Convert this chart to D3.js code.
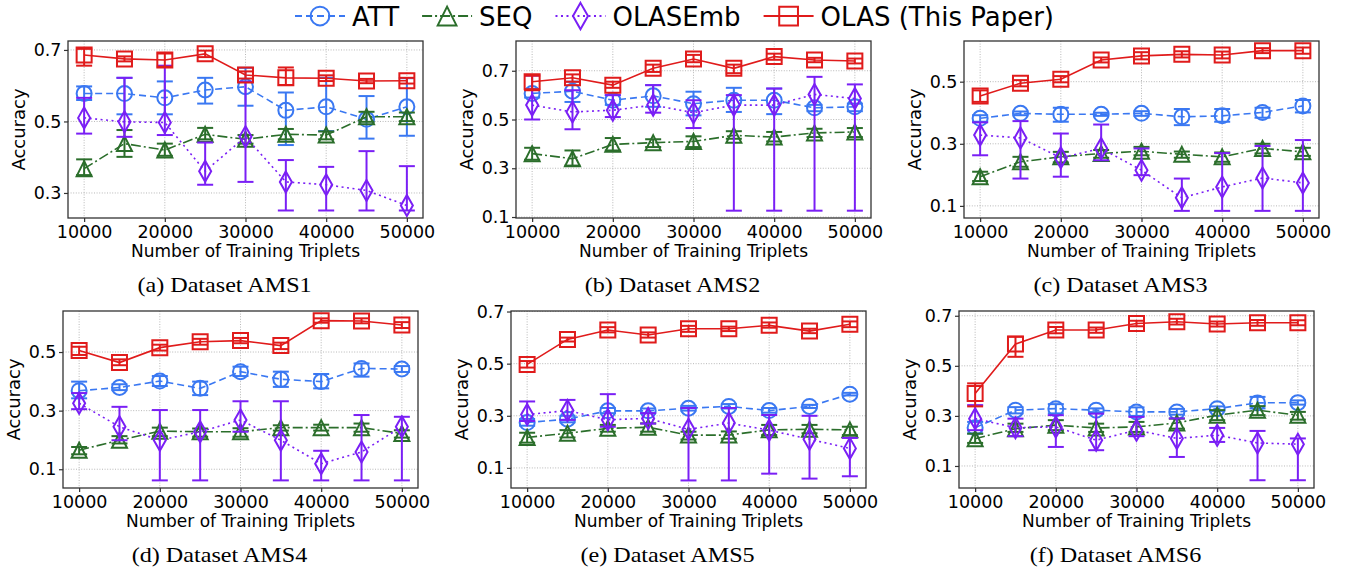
<!DOCTYPE html>
<html>
<head>
<meta charset="utf-8">
<script src="https://cdn.jsdelivr.net/npm/d3@7"></script>
<style>
body { margin: 0; background: #fff; }
svg text { font-family: "DejaVu Sans", sans-serif; fill: #000; }
</style>
</head>
<body>
<svg id="chart" width="1346" height="569"></svg>
<script>
// x values and ticks
var triplets = [10000, 15000, 20000, 25000, 30000, 35000, 40000, 45000, 50000];
var xTicks = [10000, 20000, 30000, 40000, 50000];
var yTicks = [0.1, 0.3, 0.5, 0.7];
var seriesNames = ["ATT", "SEQ", "OLASEmb", "OLAS (This Paper)"];
var captions = ["(a) Dataset AMS1", "(b) Dataset AMS2", "(c) Dataset AMS3",
                "(d) Dataset AMS4", "(e) Dataset AMS5", "(f) Dataset AMS6"];

// each point: [mean, low end of error bar, high end of error bar]
var ams1ATT = [[0.578,0.560,0.598],[0.578,0.520,0.622],[0.566,0.520,0.612],[0.588,0.550,0.622],[0.597,0.544,0.650],[0.531,0.434,0.581],[0.541,0.473,0.622],[0.506,0.452,0.571],[0.541,0.460,0.621]];
var ams1SEQ = [[0.368,0.350,0.394],[0.438,0.401,0.476],[0.420,0.404,0.438],[0.464,0.450,0.482],[0.450,0.438,0.462],[0.464,0.450,0.479],[0.462,0.450,0.472],[0.513,0.499,0.527],[0.513,0.501,0.525]];
var ams1EMB = [[0.510,0.466,0.566],[0.499,0.457,0.622],[0.497,0.462,0.656],[0.361,0.323,0.441],[0.457,0.331,0.611],[0.331,0.251,0.392],[0.323,0.251,0.373],[0.307,0.251,0.417],[0.265,0.251,0.375]];
var ams1OLAS = [[0.686,0.656,0.703],[0.675,0.668,0.682],[0.672,0.653,0.690],[0.689,0.680,0.698],[0.630,0.620,0.640],[0.622,0.602,0.651],[0.621,0.613,0.629],[0.613,0.607,0.619],[0.614,0.606,0.622]];

var ams2ATT = [[0.607,0.590,0.625],[0.616,0.572,0.655],[0.579,0.560,0.600],[0.597,0.552,0.641],[0.565,0.517,0.614],[0.579,0.531,0.630],[0.579,0.522,0.627],[0.548,0.534,0.560],[0.552,0.534,0.565]];
var ams2SEQ = [[0.360,0.335,0.384],[0.339,0.311,0.373],[0.398,0.373,0.424],[0.405,0.387,0.419],[0.410,0.387,0.431],[0.435,0.421,0.452],[0.428,0.410,0.449],[0.445,0.428,0.462],[0.449,0.428,0.465]];
var ams2EMB = [[0.559,0.500,0.680],[0.531,0.460,0.620],[0.538,0.510,0.600],[0.559,0.528,0.641],[0.528,0.465,0.579],[0.559,0.126,0.600],[0.559,0.126,0.627],[0.603,0.126,0.675],[0.586,0.126,0.644]];
var ams2OLAS = [[0.655,0.620,0.680],[0.671,0.655,0.685],[0.641,0.630,0.655],[0.710,0.695,0.725],[0.748,0.735,0.765],[0.710,0.690,0.725],[0.758,0.745,0.770],[0.744,0.735,0.753],[0.740,0.730,0.750]];

var ams3ATT = [[0.382,0.371,0.392],[0.398,0.392,0.404],[0.395,0.371,0.416],[0.395,0.390,0.400],[0.398,0.390,0.405],[0.387,0.360,0.412],[0.390,0.371,0.412],[0.401,0.384,0.416],[0.422,0.401,0.441]];
var ams3SEQ = [[0.194,0.180,0.210],[0.242,0.226,0.258],[0.258,0.240,0.274],[0.269,0.255,0.280],[0.276,0.263,0.290],[0.266,0.255,0.275],[0.258,0.242,0.272],[0.285,0.269,0.300],[0.274,0.261,0.287]];
var ams3EMB = [[0.328,0.263,0.369],[0.319,0.188,0.373],[0.255,0.194,0.333],[0.285,0.247,0.362],[0.215,0.199,0.285],[0.126,0.084,0.188],[0.161,0.084,0.270],[0.190,0.084,0.293],[0.174,0.084,0.312]];
var ams3OLAS = [[0.454,0.435,0.472],[0.495,0.485,0.505],[0.508,0.498,0.518],[0.570,0.562,0.578],[0.583,0.572,0.595],[0.588,0.578,0.598],[0.586,0.575,0.597],[0.600,0.592,0.608],[0.600,0.590,0.610]];

var ams4ATT = [[0.368,0.342,0.399],[0.379,0.370,0.390],[0.401,0.384,0.418],[0.376,0.353,0.399],[0.433,0.418,0.450],[0.407,0.381,0.433],[0.399,0.376,0.425],[0.444,0.416,0.461],[0.442,0.432,0.452]];
var ams4SEQ = [[0.165,0.151,0.176],[0.199,0.188,0.213],[0.230,0.213,0.242],[0.228,0.211,0.239],[0.228,0.211,0.240],[0.242,0.232,0.250],[0.242,0.232,0.252],[0.242,0.228,0.256],[0.222,0.208,0.233]];
var ams4EMB = [[0.325,0.305,0.360],[0.245,0.199,0.313],[0.199,0.062,0.302],[0.228,0.062,0.302],[0.268,0.228,0.332],[0.199,0.062,0.332],[0.119,0.062,0.163],[0.159,0.062,0.285],[0.245,0.062,0.279]];
var ams4OLAS = [[0.505,0.490,0.518],[0.464,0.455,0.475],[0.515,0.505,0.525],[0.535,0.525,0.545],[0.539,0.530,0.548],[0.522,0.510,0.532],[0.607,0.600,0.615],[0.606,0.598,0.615],[0.592,0.582,0.602]];

var ams5ATT = [[0.274,0.262,0.288],[0.287,0.275,0.300],[0.319,0.310,0.330],[0.319,0.310,0.328],[0.329,0.320,0.338],[0.336,0.328,0.345],[0.320,0.312,0.330],[0.336,0.330,0.342],[0.383,0.378,0.388]];
var ams5SEQ = [[0.217,0.197,0.235],[0.233,0.217,0.245],[0.252,0.239,0.265],[0.256,0.239,0.271],[0.226,0.209,0.239],[0.226,0.212,0.240],[0.246,0.226,0.265],[0.248,0.233,0.265],[0.246,0.226,0.258]];
var ams5EMB = [[0.305,0.280,0.355],[0.320,0.284,0.361],[0.285,0.258,0.383],[0.290,0.270,0.310],[0.248,0.052,0.330],[0.272,0.052,0.330],[0.245,0.078,0.303],[0.210,0.059,0.300],[0.175,0.068,0.215]];
var ams5OLAS = [[0.497,0.485,0.510],[0.593,0.585,0.600],[0.629,0.620,0.640],[0.610,0.600,0.620],[0.634,0.622,0.645],[0.634,0.625,0.642],[0.647,0.638,0.658],[0.625,0.617,0.634],[0.651,0.640,0.662]];

var ams6ATT = [[0.253,0.230,0.276],[0.323,0.310,0.335],[0.329,0.310,0.347],[0.323,0.315,0.330],[0.316,0.300,0.334],[0.316,0.305,0.328],[0.329,0.320,0.338],[0.352,0.330,0.376],[0.353,0.345,0.362]];
var ams6SEQ = [[0.209,0.192,0.229],[0.249,0.236,0.269],[0.263,0.243,0.283],[0.252,0.236,0.269],[0.256,0.236,0.276],[0.272,0.249,0.289],[0.303,0.283,0.323],[0.323,0.303,0.339],[0.303,0.285,0.316]];
var ams6EMB = [[0.289,0.243,0.343],[0.253,0.219,0.289],[0.256,0.176,0.303],[0.203,0.163,0.309],[0.243,0.219,0.296],[0.210,0.136,0.290],[0.223,0.196,0.252],[0.192,0.043,0.240],[0.187,0.043,0.210]];
var ams6OLAS = [[0.389,0.338,0.430],[0.587,0.536,0.616],[0.643,0.630,0.655],[0.643,0.632,0.653],[0.669,0.658,0.680],[0.676,0.665,0.688],[0.667,0.657,0.677],[0.672,0.660,0.683],[0.672,0.662,0.682]];

var W = 355, H = 177;

// panel placement and y range of each subplot
var panels = [
    {left: 68,  top: 41,  yDomain: [0.230, 0.725], series: [ams1ATT, ams1SEQ, ams1EMB, ams1OLAS]},
    {left: 516, top: 41,  yDomain: [0.096, 0.822], series: [ams2ATT, ams2SEQ, ams2EMB, ams2OLAS]},
    {left: 964, top: 41,  yDomain: [0.061, 0.631], series: [ams3ATT, ams3SEQ, ams3EMB, ams3OLAS]},
    {left: 63,  top: 311, yDomain: [0.036, 0.640], series: [ams4ATT, ams4SEQ, ams4EMB, ams4OLAS]},
    {left: 511, top: 311, yDomain: [0.023, 0.702], series: [ams5ATT, ams5SEQ, ams5EMB, ams5OLAS]},
    {left: 959, top: 311, yDomain: [0.012, 0.719], series: [ams6ATT, ams6SEQ, ams6EMB, ams6OLAS]}
];

var styles = [
    {color: "#3a78f2", dash: "7,4", marker: "circle"},
    {color: "#2b6e2b", dash: "10,3,2,3", marker: "triangle"},
    {color: "#7a1ff5", dash: "2,3.5", marker: "diamond"},
    {color: "#e01b1b", dash: null, marker: "square"}
];

function markerPath(type, k) {
    k = k || 1;
    if (type == "circle") {
        var r = 7.5 * k;
        return "M" + r + ",0A" + r + "," + r + " 0 1,1 " + (-r) + ",0A" + r + "," + r + " 0 1,1 " + r + ",0Z";
    }
    if (type == "triangle") {
        var h = 7.5 * k;
        return "M0," + (-h) + "L" + h + "," + h + "L" + (-h) + "," + h + "Z";
    }
    if (type == "diamond") {
        var a = 6 * k, b = 10.5 * k;
        return "M0," + (-b) + "L" + a + ",0L0," + b + "L" + (-a) + ",0Z";
    }
    var s = 7.5 * k;
    return "M" + (-s) + "," + (-s) + "H" + s + "V" + s + "H" + (-s) + "Z";
}

var svg = d3.select("#chart");

function drawPanel(p, i) {
    var g = svg.append("g").attr("transform", "translate(" + p.left + "," + p.top + ")");
    var x = d3.scaleLinear().domain([8000, 52000]).range([0, W]);
    var y = d3.scaleLinear().domain(p.yDomain).range([H, 0]);
    var yt = yTicks.filter(function(v) { return v >= p.yDomain[0] && v <= p.yDomain[1]; });

    // dotted grid
    g.append("g").selectAll("line").data(xTicks).join("line")
        .attr("x1", function(d) { return x(d); }).attr("x2", function(d) { return x(d); })
        .attr("y1", 0).attr("y2", H);
    g.append("g").selectAll("line").data(yt).join("line")
        .attr("x1", 0).attr("x2", W)
        .attr("y1", function(d) { return y(d); }).attr("y2", function(d) { return y(d); });
    g.selectAll("g line")
        .attr("stroke", "#b0b0b0").attr("stroke-width", 0.9).attr("stroke-dasharray", "1,1.6");

    var xAxis = g.append("g").attr("transform", "translate(0," + H + ")")
        .call(d3.axisBottom(x).tickValues(xTicks).tickFormat(d3.format("d")).tickSize(4).tickPadding(4));
    var yAxis = g.append("g")
        .call(d3.axisLeft(y).tickValues(yt).tickFormat(d3.format(".1f")).tickSize(4).tickPadding(2.5));
    [xAxis, yAxis].forEach(function(ax) {
        ax.select(".domain").remove();
        ax.selectAll(".tick line").attr("stroke", "#333").attr("stroke-width", 1.2);
        ax.selectAll(".tick text").attr("font-size", 17.5).attr("font-family", "DejaVu Sans").attr("fill", "#000");
    });

    // series: line, error bars, hollow markers
    p.series.forEach(function(data, s) {
        var st = styles[s];
        var sg = g.append("g");
        var pts = data.map(function(d, j) { return {x: triplets[j], v: d[0], lo: d[1], hi: d[2]}; });
        sg.append("path").datum(pts)
            .attr("fill", "none").attr("stroke", st.color).attr("stroke-width", 1.6)
            .attr("stroke-dasharray", st.dash)
            .attr("d", d3.line().x(function(d) { return x(d.x); }).y(function(d) { return y(d.v); }));
        var eb = sg.append("g").attr("stroke", st.color).attr("stroke-width", 2);
        eb.selectAll(".bar").data(pts).join("line").attr("class", "bar")
            .attr("x1", function(d) { return x(d.x); }).attr("x2", function(d) { return x(d.x); })
            .attr("y1", function(d) { return y(d.lo); }).attr("y2", function(d) { return y(d.hi); });
        ["lo", "hi"].forEach(function(k) {
            eb.selectAll(".cap-" + k).data(pts).join("line").attr("class", "cap-" + k)
                .attr("x1", function(d) { return x(d.x) - 8; }).attr("x2", function(d) { return x(d.x) + 8; })
                .attr("y1", function(d) { return y(d[k]); }).attr("y2", function(d) { return y(d[k]); });
        });
        sg.selectAll(".mk").data(pts).join("path").attr("class", "mk")
            .attr("transform", function(d) { return "translate(" + x(d.x) + "," + y(d.v) + ")"; })
            .attr("d", markerPath(st.marker))
            .attr("fill", "none").attr("stroke", st.color).attr("stroke-width", 2);
    });

    // frame
    g.append("rect").attr("width", W).attr("height", H)
        .attr("fill", "none").attr("stroke", "#333").attr("stroke-width", 1.3);

    g.append("text").attr("x", W / 2).attr("y", H + 39)
        .attr("text-anchor", "middle").attr("font-size", 17)
        .text("Number of Training Triplets");
    g.append("text").attr("transform", "translate(-43," + (H / 2) + ") rotate(-90)")
        .attr("text-anchor", "middle").attr("font-size", 18)
        .text("Accuracy");
    g.append("text")
        .attr("transform", "translate(" + (W / 2 - 21) + "," + (H + 74) + ") scale(1.15,1)")
        .attr("text-anchor", "middle").attr("font-size", 21)
        .style("font-family", "'Liberation Serif', serif")
        .text(captions[i]);
}

panels.forEach(drawPanel);

// legend across the top
var leg = svg.append("g").attr("transform", "translate(295,16)");
var lx = 0;
seriesNames.forEach(function(name, s) {
    var st = styles[s];
    var item = leg.append("g").attr("transform", "translate(" + lx + ",0)");
    item.append("line").attr("x1", 0).attr("x2", 50)
        .attr("stroke", st.color).attr("stroke-width", 2).attr("stroke-dasharray", st.dash);
    item.append("path").attr("transform", "translate(25,0)")
        .attr("d", markerPath(st.marker, 1.25))
        .attr("fill", "none").attr("stroke", st.color).attr("stroke-width", 2);
    var t = item.append("text").attr("x", 57).attr("y", 10)
        .attr("font-size", 26).text(name);
    lx += 57 + t.node().getComputedTextLength() + 23;
});
</script>
</body>
</html>
